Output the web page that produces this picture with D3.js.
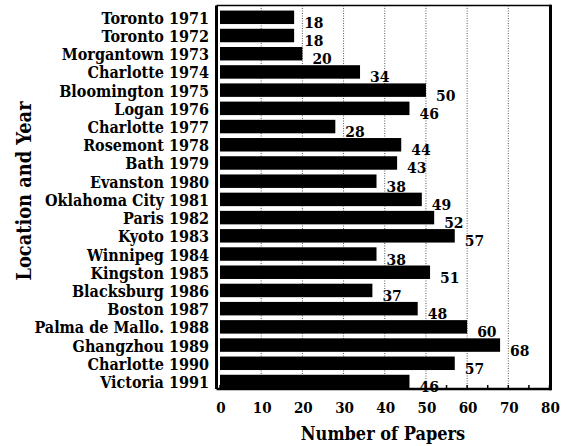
<!DOCTYPE html>
<html>
<head>
<meta charset="utf-8">
<script src="https://cdn.jsdelivr.net/npm/d3@7"></script>
<style>
  html, body { margin: 0; padding: 0; background: #fff; }
  svg { display: block; }
</style>
</head>
<body>
<svg id="chart" width="567" height="446"></svg>
<script>
const categories = [
  "Toronto 1971", "Toronto 1972", "Morgantown 1973", "Charlotte 1974",
  "Bloomington 1975", "Logan 1976", "Charlotte 1977", "Rosemont 1978",
  "Bath 1979", "Evanston 1980", "Oklahoma City 1981", "Paris 1982",
  "Kyoto 1983", "Winnipeg 1984", "Kingston 1985", "Blacksburg 1986",
  "Boston 1987", "Palma de Mallo. 1988", "Ghangzhou 1989", "Charlotte 1990",
  "Victoria 1991"
];
const papers = [18, 18, 20, 34, 50, 46, 28, 44, 43, 38, 49, 52, 57, 38, 51, 37, 48, 60, 68, 57, 46];
const tickValues = [0, 10, 20, 30, 40, 50, 60, 70, 80];
const minorTicks = [5, 15, 25, 35, 45, 55, 65, 75];
const xTitle = "Number of Papers";
const yTitle = "Location and Year";

const FONT = "'DejaVu Serif Condensed', 'DejaVu Serif', serif";
const svg = d3.select("#chart");

const x = d3.scaleLinear().domain([0, 80]).range([220, 549.5]);
const y = d3.scaleBand().domain(categories).range([8.2, 390.6]).paddingInner(0.26).paddingOuter(0.13);

const frame = { left: 216.5, right: 549.5, top: 5.5, bottom: 389 };

function txt(sel) {
  return sel.attr("font-family", FONT).attr("font-weight", "bold").attr("fill", "#000");
}

// gridlines
svg.append("g").selectAll("line").data(tickValues.filter(d => d > 0 && d < 80)).join("line")
  .attr("x1", d => x(d)).attr("x2", d => x(d))
  .attr("y1", frame.top).attr("y2", frame.bottom)
  .attr("stroke", "#555").attr("stroke-width", 1).attr("stroke-dasharray", "1,1.5");

// minor ticks on bottom axis (pointing up)
svg.append("g").selectAll("line").data(minorTicks.concat(tickValues)).join("line")
  .attr("x1", d => x(d)).attr("x2", d => x(d))
  .attr("y1", frame.bottom).attr("y2", frame.bottom - 4)
  .attr("stroke", "#000").attr("stroke-width", 1.5);

// bars
svg.append("g").selectAll("rect").data(categories).join("rect")
  .attr("x", x(0))
  .attr("y", d => y(d))
  .attr("width", (d, i) => x(papers[i]) - x(0))
  .attr("height", y.bandwidth())
  .attr("fill", "#000");

// frame
svg.append("line").attr("x1", frame.left).attr("x2", frame.right + 1.5).attr("y1", frame.top).attr("y2", frame.top)
  .attr("stroke", "#000").attr("stroke-width", 1.5);
svg.append("line").attr("x1", frame.left).attr("x2", frame.right + 1.5).attr("y1", frame.bottom).attr("y2", frame.bottom)
  .attr("stroke", "#000").attr("stroke-width", 2.5);
svg.append("line").attr("x1", frame.left).attr("x2", frame.left).attr("y1", frame.top).attr("y2", frame.bottom)
  .attr("stroke", "#000").attr("stroke-width", 3);
svg.append("line").attr("x1", frame.right + 1).attr("x2", frame.right + 1).attr("y1", frame.top - 0.75).attr("y2", frame.bottom + 1.25)
  .attr("stroke", "#000").attr("stroke-width", 3);

// value labels
txt(svg.append("g").selectAll("text").data(categories).join("text"))
  .attr("x", (d, i) => x(papers[i]) + 10)
  .attr("y", (d, i) => y(d) + y.bandwidth() / 2 + 10.5)
  .attr("font-size", 15.5)
  .text((d, i) => papers[i]);

// category labels
txt(svg.append("g").selectAll("text").data(categories).join("text"))
  .attr("x", 209)
  .attr("y", d => y(d) + y.bandwidth() / 2 + 6.5)
  .attr("text-anchor", "end")
  .attr("font-size", 16)
  .text(d => d);

// x tick labels
txt(svg.append("g").selectAll("text").data(tickValues).join("text"))
  .attr("x", d => x(d) + 1)
  .attr("y", 412.5)
  .attr("text-anchor", "middle")
  .attr("font-size", 15)
  .text(d => d);

// x title
txt(svg.append("text"))
  .attr("x", 383).attr("y", 440)
  .attr("text-anchor", "middle")
  .attr("font-size", 18)
  .text(xTitle);

// y title
txt(svg.append("text"))
  .attr("transform", "translate(31,191) rotate(-90)")
  .attr("text-anchor", "middle")
  .attr("font-size", 19.8)
  .text(yTitle);
</script>
</body>
</html>
